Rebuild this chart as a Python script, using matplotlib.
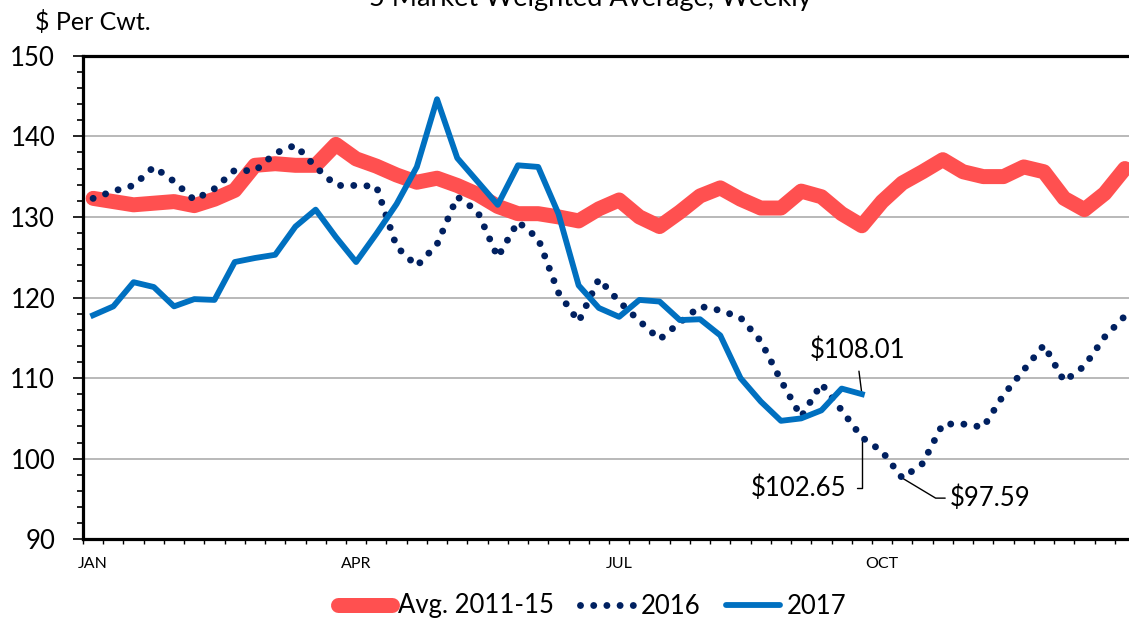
import numpy as np
import matplotlib
matplotlib.use('Agg')
import matplotlib.pyplot as plt
from matplotlib.lines import Line2D

plt.rcParams['font.family'] = ['Lato', 'DejaVu Sans']

month_labels = ['JAN', 'APR', 'JUL', 'OCT']
month_pos = [0, 13, 26, 39]

avg_11_15 = [132.3, 131.9, 131.5, 131.7, 131.9, 131.4, 132.2, 133.3, 136.4, 136.6,
             136.4, 136.4, 139.0, 137.2, 136.3, 135.2, 134.3, 134.8, 133.9, 132.8,
             131.3, 130.4, 130.4, 130.0, 129.5, 131.0, 132.1, 130.0, 128.8, 130.6,
             132.6, 133.6, 132.2, 131.1, 131.1, 133.2, 132.5, 130.4, 128.9, 131.9,
             134.2, 135.6, 137.1, 135.6, 135.0, 135.0, 136.2, 135.6, 132.3, 130.9,
             132.9, 136.0]
y2016 = [132.3, 133.2, 133.9, 136.2, 134.4, 132.1, 133.5, 135.8, 135.7, 137.9,
         138.9, 136.2, 133.9, 133.9, 133.8, 126.3, 123.9, 126.6, 132.5, 130.7,
         125.0, 129.4, 127.3, 120.6, 117.0, 122.3, 119.5, 117.1, 114.8, 116.9,
         118.9, 118.4, 117.5, 114.6, 109.7, 105.2, 109.3, 106.0, 102.65, 100.9,
         97.59, 99.4, 104.3, 104.3, 103.9, 107.9, 111.0, 114.1, 109.6, 111.5,
         115.1, 117.7]
y2017 = [117.8, 118.9, 121.9, 121.3, 118.9, 119.8, 119.7, 124.4, 124.9, 125.3,
         128.8, 130.9, 127.5, 124.4, 127.9, 131.6, 136.2, 144.6, 137.3, 134.4,
         131.5, 136.4, 136.2, 130.4, 121.5, 118.7, 117.6, 119.7, 119.5, 117.2,
         117.3, 115.3, 110.0, 107.1, 104.7, 105.0, 106.0, 108.7, 108.01]

RED = '#FF5050'
NAVY = '#002060'
BLUE = '#0070C0'
dots = (0, (0.001, 1.9))

W, H = 1129, 621
fig = plt.figure(figsize=(W / 100, H / 100), dpi=100)
ax = fig.add_axes([83 / W, 81.7 / H, 1052 / W, 483.6 / H])

ax.plot(np.arange(len(avg_11_15)), avg_11_15, color=RED, lw=10.8,
        solid_joinstyle='round', solid_capstyle='round', zorder=3)
ax.plot(np.arange(len(y2016)), y2016, color=NAVY, lw=5, linestyle=dots,
        dash_capstyle='round', zorder=4)
ax.plot(np.arange(len(y2017)), y2017, color=BLUE, lw=4.2,
        solid_joinstyle='round', zorder=5)

ax.set_xlim(-0.5, 51.5)
ax.set_ylim(90, 150)
ax.set_xticks(month_pos)
ax.set_xticklabels(month_labels, fontsize=11.5)
ax.set_xticks(np.arange(-0.5, 52, 1), minor=True)
ax.tick_params(axis='x', which='major', length=0, pad=13)
ax.tick_params(axis='x', which='minor', length=3.5, width=1, direction='out')
ax.set_yticks(np.arange(90, 151, 10))
ax.set_yticks(np.arange(90, 151, 2), minor=True)
ax.tick_params(axis='y', which='major', length=7, width=1.2, labelsize=18.5, pad=13)
ax.tick_params(axis='y', which='minor', length=4.5, width=1.2)
ax.yaxis.grid(True, color='#A6A6A6', lw=1.1, zorder=0)
ax.set_axisbelow(True)
for s in ['top', 'left', 'bottom']:
    ax.spines[s].set_linewidth(2.3)
    ax.spines[s].set_color('black')
ax.spines['right'].set_visible(False)

# labels on the last points
ax.annotate('$108.01', xy=(38, y2017[38]), xytext=(-4, 44), textcoords='offset pixels',
            ha='center', va='center', fontsize=18.5,
            arrowprops=dict(arrowstyle='-', color='black', lw=1, relpos=(0.5, 0),
                            shrinkA=4, shrinkB=0))
ax.annotate('$102.65', xy=(38, y2016[38]), xytext=(-15, -51), textcoords='offset pixels',
            ha='right', va='center', fontsize=18.5,
            arrowprops=dict(arrowstyle='-', color='black', lw=1, relpos=(1, 0.5),
                            connectionstyle='angle,angleA=0,angleB=90,rad=0',
                            shrinkA=5, shrinkB=0))
ax.annotate('$97.59', xy=(40, y2016[40]), xytext=(47, -20), textcoords='offset pixels',
            ha='left', va='center', fontsize=18.5,
            arrowprops=dict(arrowstyle='-', color='black', lw=1, relpos=(0, 0.5),
                            connectionstyle='angle,angleA=0,angleB=-31,rad=0',
                            shrinkA=1, shrinkB=0))

fig.text(35 / W, 1 - 22 / H, '$ Per Cwt.', ha='left', va='center', fontsize=18)
fig.text(590 / W, 1 - 6 / H, '5 Market Weighted Average, Weekly', ha='center',
         va='baseline', fontsize=19.5)

handles = [
    Line2D([], [], color=RED, lw=10.8, solid_capstyle='round'),
    Line2D([], [], color=NAVY, lw=5, linestyle=dots, dash_capstyle='round'),
    Line2D([], [], color=BLUE, lw=4.2, solid_capstyle='round'),
]
fig.legend(handles, ['Avg. 2011-15', '2016', '2017'], loc='center',
           bbox_to_anchor=(592 / W, 15 / H), ncol=3, frameon=False, fontsize=18.5,
           handlelength=2.1, handletextpad=0.25, columnspacing=1.0)

fig.savefig('out.png', dpi=100)
